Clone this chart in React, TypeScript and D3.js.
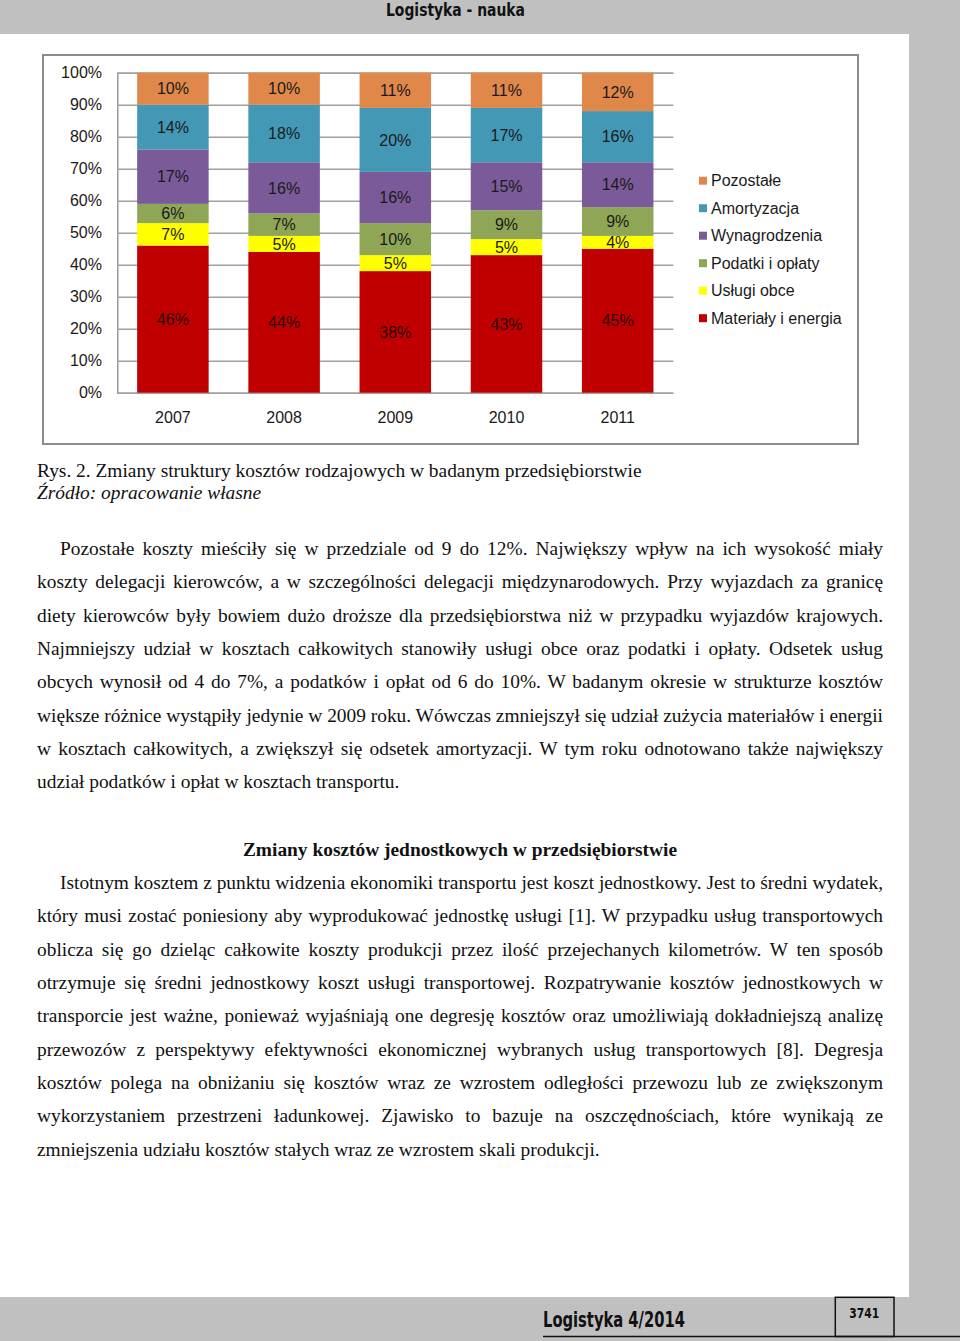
import * as d3 from 'd3'
import { useEffect, useRef } from 'react'

// chart data
const years = ['2007', '2008', '2009', '2010', '2011']
const seriesNames = [
  'Materiały i energia',
  'Usługi obce',
  'Podatki i opłaty',
  'Wynagrodzenia',
  'Amortyzacja',
  'Pozostałe',
]
const materialy = [46, 44, 38, 43, 45]
const uslugi = [7, 5, 5, 5, 4]
const podatki = [6, 7, 10, 9, 9]
const wynagrodzenia = [17, 16, 16, 15, 14]
const amortyzacja = [14, 18, 20, 17, 16]
const pozostale = [10, 10, 11, 11, 12]
const seriesColors = ['#C00000', '#FFFF00', '#8FA656', '#7A5A98', '#4398B5', '#E0874A']
const yTicks = [0, 10, 20, 30, 40, 50, 60, 70, 80, 90, 100]

// page text
const captionLines = ['Rys. 2. Zmiany struktury kosztów rodzajowych w badanym przedsiębiorstwie']
const sourceLine = 'Źródło: opracowanie własne'
const paragraph1 = [
  'Pozostałe koszty mieściły się w przedziale od 9 do 12%. Największy wpływ na ich wysokość miały',
  'koszty delegacji kierowców, a w szczególności delegacji międzynarodowych. Przy wyjazdach za granicę',
  'diety kierowców były bowiem dużo droższe dla przedsiębiorstwa niż w przypadku wyjazdów krajowych.',
  'Najmniejszy udział w kosztach całkowitych stanowiły usługi obce oraz podatki i opłaty. Odsetek usług',
  'obcych wynosił od 4 do 7%, a podatków i opłat od 6 do 10%. W badanym okresie w strukturze kosztów',
  'większe różnice wystąpiły jedynie w 2009 roku. Wówczas zmniejszył się udział zużycia materiałów i energii',
  'w kosztach całkowitych, a zwiększył się odsetek amortyzacji. W tym roku odnotowano także największy',
  'udział podatków i opłat w kosztach transportu.',
]
const heading = 'Zmiany kosztów jednostkowych w przedsiębiorstwie'
const paragraph2 = [
  'Istotnym kosztem z punktu widzenia ekonomiki transportu jest koszt jednostkowy. Jest to średni wydatek,',
  'który musi zostać poniesiony aby wyprodukować jednostkę usługi [1]. W przypadku usług transportowych',
  'oblicza się go dzieląc całkowite koszty produkcji przez ilość przejechanych kilometrów. W ten sposób',
  'otrzymuje się średni jednostkowy koszt usługi transportowej. Rozpatrywanie kosztów jednostkowych w',
  'transporcie jest ważne, ponieważ wyjaśniają one degresję kosztów oraz umożliwiają dokładniejszą analizę',
  'przewozów z perspektywy efektywności ekonomicznej wybranych usług transportowych [8]. Degresja',
  'kosztów polega na obniżaniu się kosztów wraz ze wzrostem odległości przewozu lub ze zwiększonym',
  'wykorzystaniem przestrzeni ładunkowej. Zjawisko to bazuje na oszczędnościach, które wynikają ze',
  'zmniejszenia udziału kosztów stałych wraz ze wzrostem skali produkcji.',
]

const W = 960
const H = 1341
const sans = '"Liberation Sans", Arial, Helvetica, sans-serif'
const serif = '"Liberation Serif", "Times New Roman", serif'
const narrow = '"Liberation Sans Narrow", "DejaVu Sans Condensed", sans-serif'
const bodySize = '19.4px'

export default function App() {
  const svgRef = useRef<SVGSVGElement>(null)

  useEffect(() => {
    const svg = d3.select(svgRef.current)
    svg.selectAll('*').remove()

    // page background
    svg.append('rect').attr('width', W).attr('height', H).attr('fill', '#C0C0C0')
    svg.append('rect').attr('x', 0).attr('y', 34).attr('width', 909).attr('height', 1297 - 34).attr('fill', '#fff')

    // header
    svg
      .append('text')
      .attr('x', 386)
      .attr('y', 15.5)
      .attr('textLength', 139)
      .attr('lengthAdjust', 'spacingAndGlyphs')
      .style('font-family', narrow)
      .style('font-weight', 'bold')
      .style('font-size', '18px')
      .attr('fill', '#111')
      .text('Logistyka - nauka')

    // footer
    svg
      .append('line')
      .attr('x1', 543)
      .attr('x2', W)
      .attr('y1', 1336.5)
      .attr('y2', 1336.5)
      .attr('stroke', '#111')
      .attr('stroke-width', 1.5)
    svg
      .append('rect')
      .attr('x', 835.3)
      .attr('y', 1297.3)
      .attr('width', 58.7)
      .attr('height', 39.2)
      .attr('fill', 'none')
      .attr('stroke', '#111')
      .attr('stroke-width', 1.5)
    svg
      .append('text')
      .attr('x', 543)
      .attr('y', 1327)
      .attr('textLength', 142)
      .attr('lengthAdjust', 'spacingAndGlyphs')
      .style('font-family', narrow)
      .style('font-weight', 'bold')
      .style('font-size', '21px')
      .attr('fill', '#111')
      .text('Logistyka 4/2014')
    svg
      .append('text')
      .attr('x', 849.3)
      .attr('y', 1318.3)
      .attr('textLength', 30)
      .attr('lengthAdjust', 'spacingAndGlyphs')
      .style('font-family', narrow)
      .style('font-weight', 'bold')
      .style('font-size', '14px')
      .attr('fill', '#111')
      .text('3741')

    // chart frame
    svg
      .append('rect')
      .attr('x', 43)
      .attr('y', 55)
      .attr('width', 815)
      .attr('height', 389)
      .attr('fill', '#fff')
      .attr('stroke', '#8c8c8c')
      .attr('stroke-width', 2)

    const plot = { left: 117.3, right: 673.3, top: 72.7, bottom: 392.7 }

    const xScale = d3
      .scaleBand<string>()
      .domain(years)
      .range([plot.left, plot.right])
      .paddingInner(0.357)
      .paddingOuter(0.1785)

    const yScale = d3.scaleLinear().domain([0, 100]).range([plot.bottom, plot.top])

    // grid
    const yAxisGrid = d3
      .axisLeft(yScale)
      .tickValues(yTicks)
      .tickSize(-(plot.right - plot.left))
      .tickFormat(() => '')
    const grid = svg.append('g').attr('transform', `translate(${plot.left},0)`).call(yAxisGrid)
    grid.select('.domain').attr('stroke', '#9a9a9a').attr('stroke-width', 1.5)
    grid.selectAll('.tick line').attr('stroke', '#a0a0a0').attr('stroke-width', 1.4)

    // tick labels
    svg
      .append('g')
      .selectAll('text')
      .data(yTicks)
      .enter()
      .append('text')
      .attr('x', 102)
      .attr('y', (d) => yScale(d))
      .attr('dy', '0.36em')
      .attr('text-anchor', 'end')
      .style('font-family', sans)
      .style('font-size', '16px')
      .attr('fill', '#1a1a1a')
      .text((d) => d + '%')

    // category labels
    svg
      .append('g')
      .selectAll('text')
      .data(years)
      .enter()
      .append('text')
      .attr('x', (d) => (xScale(d) as number) + xScale.bandwidth() / 2)
      .attr('y', 422.5)
      .attr('text-anchor', 'middle')
      .style('font-family', sans)
      .style('font-size', '16px')
      .attr('fill', '#1a1a1a')
      .text((d) => d)

    // stacked bars
    const seriesValues = [materialy, uslugi, podatki, wynagrodzenia, amortyzacja, pozostale]
    const rows = years.map((year, i) => {
      const row: Record<string, number | string> = { year }
      seriesNames.forEach((name, s) => (row[name] = seriesValues[s][i]))
      return row
    })
    const stacked = d3.stack<Record<string, number | string>>().keys(seriesNames)(rows as any)

    stacked.forEach((layer, s) => {
      const g = svg.append('g')
      g.selectAll('rect')
        .data(layer)
        .enter()
        .append('rect')
        .attr('x', (d) => xScale(d.data.year as string) as number)
        .attr('width', xScale.bandwidth())
        .attr('y', (d) => yScale(d[1]))
        .attr('height', (d) => yScale(d[0]) - yScale(d[1]))
        .attr('fill', seriesColors[s])
      g.selectAll('text')
        .data(layer)
        .enter()
        .append('text')
        .attr('x', (d) => (xScale(d.data.year as string) as number) + xScale.bandwidth() / 2)
        .attr('y', (d) => (yScale(d[0]) + yScale(d[1])) / 2)
        .attr('dy', '0.36em')
        .attr('text-anchor', 'middle')
        .style('font-family', sans)
        .style('font-size', '16px')
        .attr('fill', s === 0 ? '#2a0505' : '#1a1a1a')
        .text((d) => d[1] - d[0] + '%')
    })

    // legend
    const legendNames = seriesNames.slice().reverse()
    const legendColors = seriesColors.slice().reverse()
    const legend = svg.append('g')
    legendNames.forEach((name, i) => {
      const cy = 180.7 + i * 27.5
      legend
        .append('rect')
        .attr('x', 699)
        .attr('y', cy - 4)
        .attr('width', 8)
        .attr('height', 8)
        .attr('fill', legendColors[i])
      legend
        .append('text')
        .attr('x', 711)
        .attr('y', cy)
        .attr('dy', '0.36em')
        .style('font-family', sans)
        .style('font-size', '16px')
        .attr('fill', '#1a1a1a')
        .text(name)
    })

    // caption
    const body = svg.append('g').style('font-family', serif).attr('fill', '#111')
    captionLines.forEach((line) => {
      body.append('text').attr('x', 37).attr('y', 477).style('font-size', bodySize).text(line)
    })
    body
      .append('text')
      .attr('x', 37)
      .attr('y', 499)
      .style('font-size', bodySize)
      .style('font-style', 'italic')
      .text(sourceLine)

    // justified paragraph lines
    const justifyLines = (lines: string[], firstBaseline: number) => {
      lines.forEach((line, i) => {
        const x = i === 0 ? 60 : 37
        const t = body
          .append('text')
          .attr('x', x)
          .attr('y', firstBaseline + i * 33.35)
          .style('font-size', bodySize)
          .text(line)
        if (i < lines.length - 1) {
          const natural = (t.node() as SVGTextElement).getComputedTextLength()
          const gaps = line.split(' ').length - 1
          const extra = (883 - x - natural) / gaps
          t.attr('word-spacing', extra)
        }
      })
    }
    justifyLines(paragraph1, 555)

    body
      .append('text')
      .attr('x', 460)
      .attr('y', 856)
      .attr('text-anchor', 'middle')
      .style('font-size', bodySize)
      .style('font-weight', 'bold')
      .text(heading)

    justifyLines(paragraph2, 889)
  }, [])

  return (
    <svg
      ref={svgRef}
      width={W}
      height={H}
      style={{ position: 'absolute', left: 0, top: 0, display: 'block' }}
    />
  )
}
